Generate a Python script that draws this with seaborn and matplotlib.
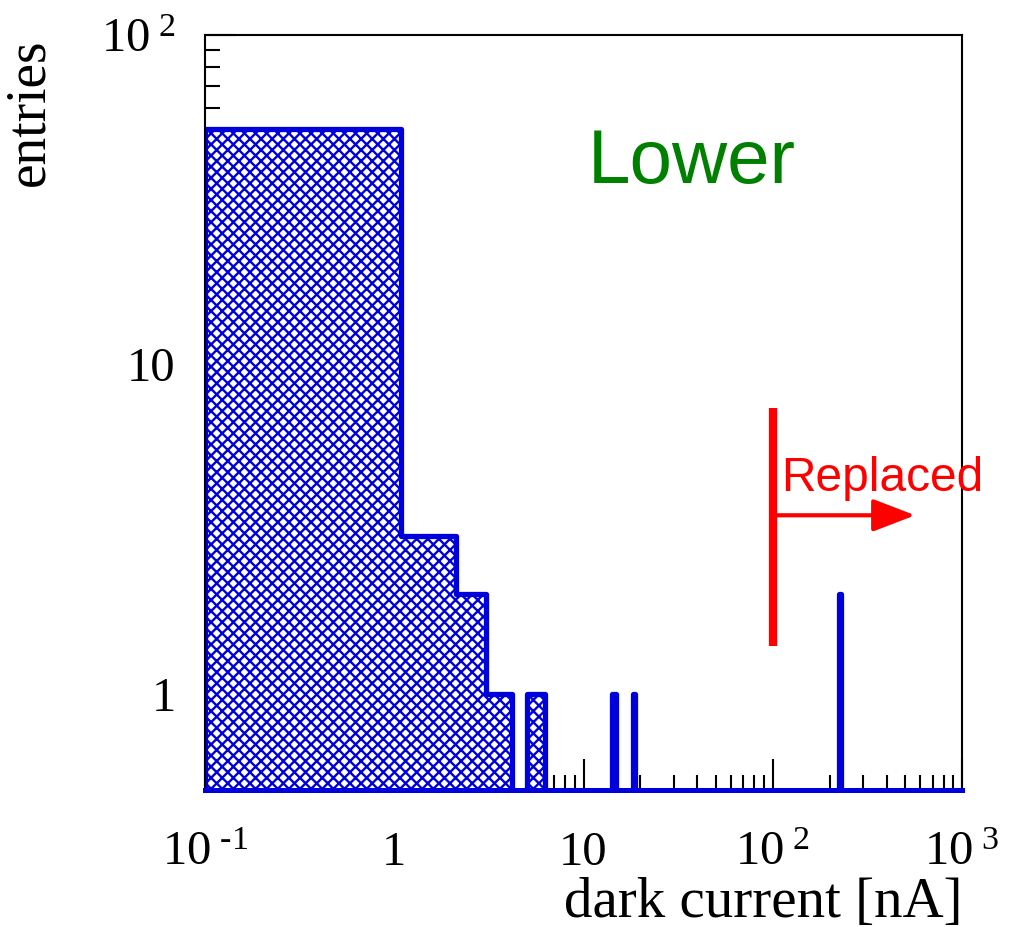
import numpy as np
import pandas as pd
import matplotlib
matplotlib.use("Agg")
import matplotlib.pyplot as plt
from matplotlib.ticker import FixedLocator, FixedFormatter, NullFormatter, LogLocator
import seaborn as sns

# ---- data ----
bin_edges = [0.1, 1.09, 2.12, 3.05, 4.19, 5.03, 6.26, 14.2, 14.8, 18.15, 18.65, 225.0, 228.0]
bin_counts = [52, 3, 2, 1, 0, 1, 0, 1, 0, 1, 0, 2]
x_ticks = [0.1, 1, 10, 100, 1000]
x_ticklabels = ["$10^{\\ \\mathrm{\u2010}1}$", "1", "10", r"$10^{\ 2}$", r"$10^{\ 3}$"]
y_ticks = [1, 10, 100]
y_ticklabels = ["1", "10", r"$10^{\ 2}$"]
cut_value = 100
cut_range = (1.39, 7.35)
arrow_y = 3.48
arrow_end = 565

centers = [(a + b) / 2 for a, b in zip(bin_edges[:-1], bin_edges[1:])]
df = pd.DataFrame({"current": centers, "entries": bin_counts})

sns.set_style("white")
plt.rcParams["font.family"] = ["Liberation Serif", "DejaVu Serif"]
plt.rcParams["mathtext.fontset"] = "custom"
plt.rcParams["mathtext.rm"] = "Liberation Serif"
plt.rcParams["mathtext.it"] = "Liberation Serif"
plt.rcParams["hatch.linewidth"] = 1.7
plt.rcParams["text.color"] = "black"
plt.rcParams["axes.labelcolor"] = "black"

fig = plt.figure(figsize=(10.10, 9.27), dpi=100)
ax = fig.add_axes([0.203, 0.148, 0.7495, 0.814])

sns.histplot(data=df, x="current", weights="entries", bins=bin_edges,
             element="step", fill=True, facecolor="white", edgecolor="#0000dd",
             hatch="xxx", linewidth=3.8, ax=ax)

ax.set_xscale("log")
ax.set_yscale("log")
ax.set_xlim(0.1, 1000)
ax.set_ylim(0.51, 100)

ax.xaxis.set_major_locator(FixedLocator(x_ticks))
ax.xaxis.set_major_formatter(FixedFormatter(x_ticklabels))
ax.yaxis.set_major_locator(FixedLocator(y_ticks))
ax.yaxis.set_major_formatter(FixedFormatter(y_ticklabels))
ax.xaxis.set_minor_locator(LogLocator(base=10, subs=np.arange(2, 10)))
ax.yaxis.set_minor_locator(LogLocator(base=10, subs=np.arange(2, 10)))
ax.xaxis.set_minor_formatter(NullFormatter())
ax.yaxis.set_minor_formatter(NullFormatter())
ax.tick_params(which="major", direction="in", length=22, width=1.5,
               labelsize=35, colors="black", bottom=True, left=True,
               top=False, right=False)
ax.tick_params(which="minor", direction="in", length=11, width=1.5,
               colors="black", bottom=True, left=True, top=False, right=False)
ax.tick_params(axis="x", which="major", pad=30)
ax.tick_params(axis="y", which="major", pad=21)

for s in ["top", "right", "left"]:
    ax.spines[s].set_color("black")
    ax.spines[s].set_linewidth(1.5)
ax.spines["bottom"].set_color("#0000dd")
ax.spines["bottom"].set_linewidth(3.6)

ax.set_xlabel("dark current [nA]", fontsize=41, loc="right")
ax.set_ylabel("entries", fontsize=40, loc="top")
ax.xaxis.set_label_coords(1.0, -0.115)
ax.yaxis.set_label_coords(-0.198, 0.996)

ax.text(0.506, 0.83, "Lower", transform=ax.transAxes, color="#008000",
        fontsize=55, family="Liberation Sans", va="center", ha="left")

ax.plot([cut_value, cut_value], cut_range, color="red", lw=6, solid_capstyle="butt")
ax.annotate("", xy=(arrow_end, arrow_y), xytext=(cut_value, arrow_y),
            arrowprops=dict(arrowstyle="-|>,head_length=2.6,head_width=1.0",
                            color="red", lw=3, shrinkA=0, shrinkB=0))
ax.text(cut_value * 1.11, 4.5, "Replaced", color="red", fontsize=34.5,
        family="Liberation Sans", va="center", ha="left", clip_on=False)

fig.savefig("out.png", dpi=100)
